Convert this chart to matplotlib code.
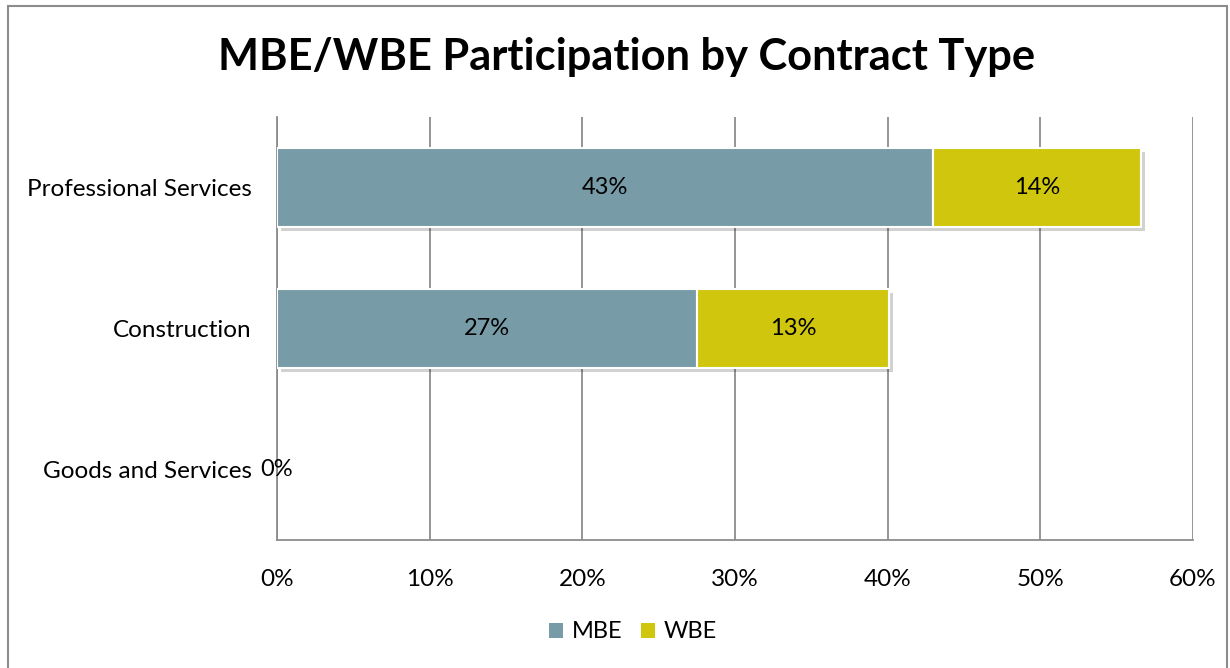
import matplotlib
matplotlib.use("Agg")
import matplotlib.pyplot as plt
import matplotlib.patheffects as pe
from matplotlib.patches import Rectangle
from matplotlib.ticker import FuncFormatter, MultipleLocator

categories = ["Professional Services", "Construction", "Goods and Services"]
mbe = [43.0, 27.5, 0.0]
wbe = [13.6, 12.6, 0.0]
mbe_labels = ["43%", "27%", "0%"]
wbe_labels = ["14%", "13%", ""]

mbe_color = "#779CA8"
wbe_color = "#D0C60E"
font = "Lato"

fig = plt.figure(figsize=(12.3, 6.68), dpi=100)
W, H = 1230, 668
ax = fig.add_axes([277 / W, 1 - 540 / H, (1193 - 277) / W, (540 - 117) / H])

# outer frame
fig.patches.append(Rectangle((8 / W, -0.01), (1227 - 8) / W, 1 - 6 / H + 0.01,
                             transform=fig.transFigure, fill=False,
                             edgecolor="#8c8c8c", linewidth=1.5))

y = list(range(len(categories)))
shadow = [pe.SimplePatchShadow(offset=(3, -3), shadow_rgbFace="#000000", alpha=0.18), pe.Normal()]
b1 = ax.barh(y, mbe, height=0.56, color=mbe_color, edgecolor="white", linewidth=1.5, zorder=3)
b2 = ax.barh(y, wbe, left=mbe, height=0.56, color=wbe_color, edgecolor="white", linewidth=1.5, zorder=3)
for bars in (b1, b2):
    for b in bars:
        if b.get_width() > 0:
            b.set_path_effects(shadow)
        else:
            b.set_visible(False)

fs = 17
for i in range(len(categories)):
    if mbe_labels[i]:
        ax.text(mbe[i] / 2, y[i], mbe_labels[i], ha="center", va="center",
                fontsize=fs, family=font, color="black", zorder=5)
    if wbe_labels[i]:
        ax.text(mbe[i] + wbe[i] / 2, y[i], wbe_labels[i], ha="center", va="center",
                fontsize=fs, family=font, color="black", zorder=5)

ax.set_xlim(0, 60)
ax.set_ylim(2.5, -0.5)
ax.xaxis.set_major_locator(MultipleLocator(10))
ax.xaxis.set_major_formatter(FuncFormatter(lambda v, p: f"{int(round(v))}%"))
ax.set_yticks(y)
ax.set_yticklabels(categories)
ax.tick_params(axis="both", length=0, labelsize=17.5)
ax.tick_params(axis="x", pad=21)
ax.tick_params(axis="y", pad=18)
for lab in ax.get_xticklabels() + ax.get_yticklabels():
    lab.set_fontfamily(font)
ax.grid(axis="x", color="#8c8c8c", linewidth=1.3, zorder=0)
ax.set_axisbelow(True)
for s in ["top", "right"]:
    ax.spines[s].set_visible(False)
for s in ["left", "bottom"]:
    ax.spines[s].set_color("#8c8c8c")
    ax.spines[s].set_linewidth(1.3)

fig.text(0.5 + 12 / W, 1 - 57 / H, "MBE/WBE Participation by Contract Type", ha="center", va="center",
         fontsize=31.2, fontweight="bold", family=font)

leg = fig.legend([b1, b2], ["MBE", "WBE"], loc="center", bbox_to_anchor=(633 / W, 1 - 632 / H),
                 ncol=2, frameon=False, prop={"family": font, "size": 17},
                 handlelength=0.6, handleheight=0.6, handletextpad=0.35, columnspacing=0.8)
for h in leg.legend_handles:
    h.set_edgecolor("none")
    h.set_path_effects([])
    h.set_visible(True)

fig.savefig("out.png", dpi=100)
